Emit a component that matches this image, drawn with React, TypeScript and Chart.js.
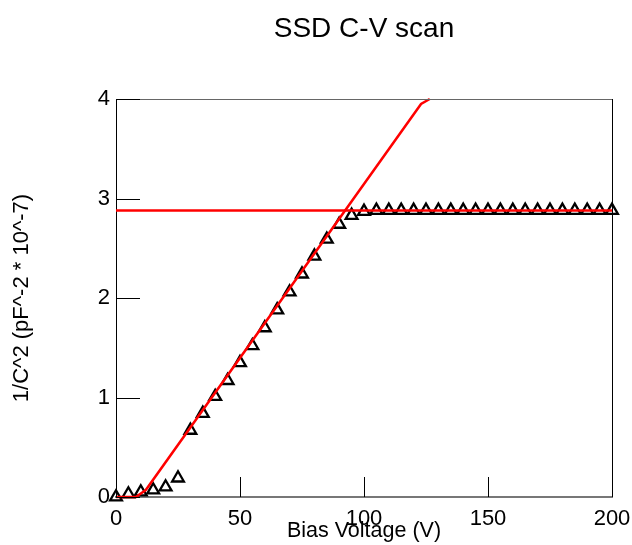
import React, { useEffect, useRef } from "react";
import { Chart, registerables } from "chart.js";

Chart.register(...registerables);

const voltage = [0, 5, 10, 15, 20, 25, 30, 35, 40, 45, 50, 55, 60, 65, 70, 75, 80, 85, 90, 95, 100,
  105, 110, 115, 120, 125, 130, 135, 140, 145, 150, 155, 160, 165, 170, 175, 180, 185, 190, 195, 200];
const invC2 = [0, 0.03, 0.05, 0.07, 0.1, 0.19, 0.67, 0.84, 1.01, 1.17, 1.35, 1.52, 1.7, 1.88, 2.06, 2.24, 2.42, 2.59, 2.74, 2.83, 2.87,
  2.88, 2.88, 2.88, 2.88, 2.88, 2.88, 2.88, 2.88, 2.88, 2.88, 2.88, 2.88, 2.88, 2.88, 2.88, 2.88, 2.88, 2.88, 2.88, 2.88];

const fitV = [0, 8, 12, 123, 126.5];
const fitY = [0, 0, 0.07, 3.95, 4.0];

const plateauV = [0, 200];
const plateauY = [2.88, 2.88];

const xTicks = [0, 50, 100, 150, 200];
const yTicks = [0, 1, 2, 3, 4];

const titleText = "SSD C-V scan";

const FONT = "'Liberation Sans', Arial, sans-serif";

const framePlugin = {
  id: "frame",
  afterDraw(chart: any) {
    const { ctx, chartArea, scales } = chart;
    const { left, right, top, bottom } = chartArea;
    ctx.save();
    // title centred over plot area
    ctx.fillStyle = "#000000";
    ctx.font = `28px ${FONT}`;
    ctx.textAlign = "center";
    ctx.textBaseline = "alphabetic";
    ctx.fillText(titleText, (left + right) / 2, 37);
    // top border
    ctx.strokeStyle = "#666666";
    ctx.lineWidth = 1;
    ctx.beginPath();
    ctx.moveTo(left, top + 0.5);
    ctx.lineTo(right, top + 0.5);
    ctx.stroke();
    // right border
    ctx.strokeStyle = "#000000";
    ctx.beginPath();
    ctx.moveTo(right + 0.5, top);
    ctx.lineTo(right + 0.5, bottom);
    ctx.stroke();
    // inward ticks
    ctx.strokeStyle = "#000000";
    ctx.lineWidth = 1;
    xTicks.forEach((v) => {
      const px = Math.round(scales.x.getPixelForValue(v)) + 0.5;
      ctx.beginPath();
      ctx.moveTo(px, bottom);
      ctx.lineTo(px, bottom - 20);
      ctx.stroke();
    });
    yTicks.forEach((v) => {
      const py = Math.round(scales.y.getPixelForValue(v)) + 0.5;
      ctx.beginPath();
      ctx.moveTo(left, py);
      ctx.lineTo(left + 24, py);
      ctx.stroke();
    });
    ctx.restore();
  },
};

export default function App() {
  const ref = useRef<HTMLCanvasElement | null>(null);
  useEffect(() => {
    if (!ref.current) return;
    const chart = new Chart(ref.current, {
      type: "scatter",
      data: {
        datasets: [
          {
            label: "fit",
            data: fitV.map((v, i) => ({ x: v, y: fitY[i] })),
            showLine: true,
            borderColor: "#ff0000",
            borderWidth: 2.5,
            pointRadius: 0,
            tension: 0,
            clip: 2,
          },
          {
            label: "plateau",
            data: plateauV.map((v, i) => ({ x: v, y: plateauY[i] })),
            showLine: true,
            borderColor: "#ff0000",
            borderWidth: 2.5,
            pointRadius: 0,
            tension: 0,
          },
          {
            label: "data",
            data: voltage.map((v, i) => ({ x: v, y: invC2[i] })),
            pointStyle: "triangle",
            pointRadius: 6.8,
            pointBorderWidth: 2.3,
            pointBorderColor: "#000000",
            pointBackgroundColor: "rgba(255,255,255,0)",
            showLine: false,
            clip: false,
          },
        ],
      },
      options: {
        animation: false,
        responsive: false,
        layout: { padding: { left: 0, right: 20, top: 99, bottom: 0 } },
        plugins: {
          legend: { display: false },
          tooltip: { enabled: false },
          title: { display: false },
        },
        scales: {
          x: {
            type: "linear",
            min: 0,
            max: 200,
            afterBuildTicks: (scale: any) => {
              scale.ticks = xTicks.map((v) => ({ value: v }));
            },
            afterFit: (scale: any) => {
              scale.height = 48;
              scale.paddingLeft = 0;
              scale.paddingRight = 0;
            },
            grid: { display: false, drawTicks: false },
            border: { display: true, color: "#777777", width: 2 },
            ticks: {
              color: "#000000",
              font: { family: FONT, size: 22 },
              padding: 9,
              maxRotation: 0,
            },
            title: {
              display: true,
              text: "Bias Voltage (V)",
              color: "#000000",
              font: { family: FONT, size: 21.5 },
              padding: { top: 0, bottom: 1 },
            },
          },
          y: {
            type: "linear",
            min: 0,
            max: 4,
            afterBuildTicks: (scale: any) => {
              scale.ticks = yTicks.map((v) => ({ value: v }));
            },
            afterFit: (scale: any) => {
              scale.width = 116;
              scale.paddingTop = 0;
              scale.paddingBottom = 0;
            },
            grid: { display: false, drawTicks: false },
            border: { display: true, color: "#000000", width: 1 },
            ticks: {
              color: "#000000",
              font: { family: FONT, size: 22 },
              padding: 6,
            },
            title: {
              display: true,
              text: "1/C^2 (pF^-2 * 10^-7)",
              color: "#000000",
              font: { family: FONT, size: 22 },
              padding: { top: 9, bottom: 0 },
            },
          },
        },
      },
      plugins: [framePlugin],
    } as any);
    return () => chart.destroy();
  }, []);
  return (
    <div style={{ position: "fixed", left: 0, top: 0, width: 632, height: 545, background: "#ffffff" }}>
      <canvas ref={ref} width={632} height={545} />
    </div>
  );
}
